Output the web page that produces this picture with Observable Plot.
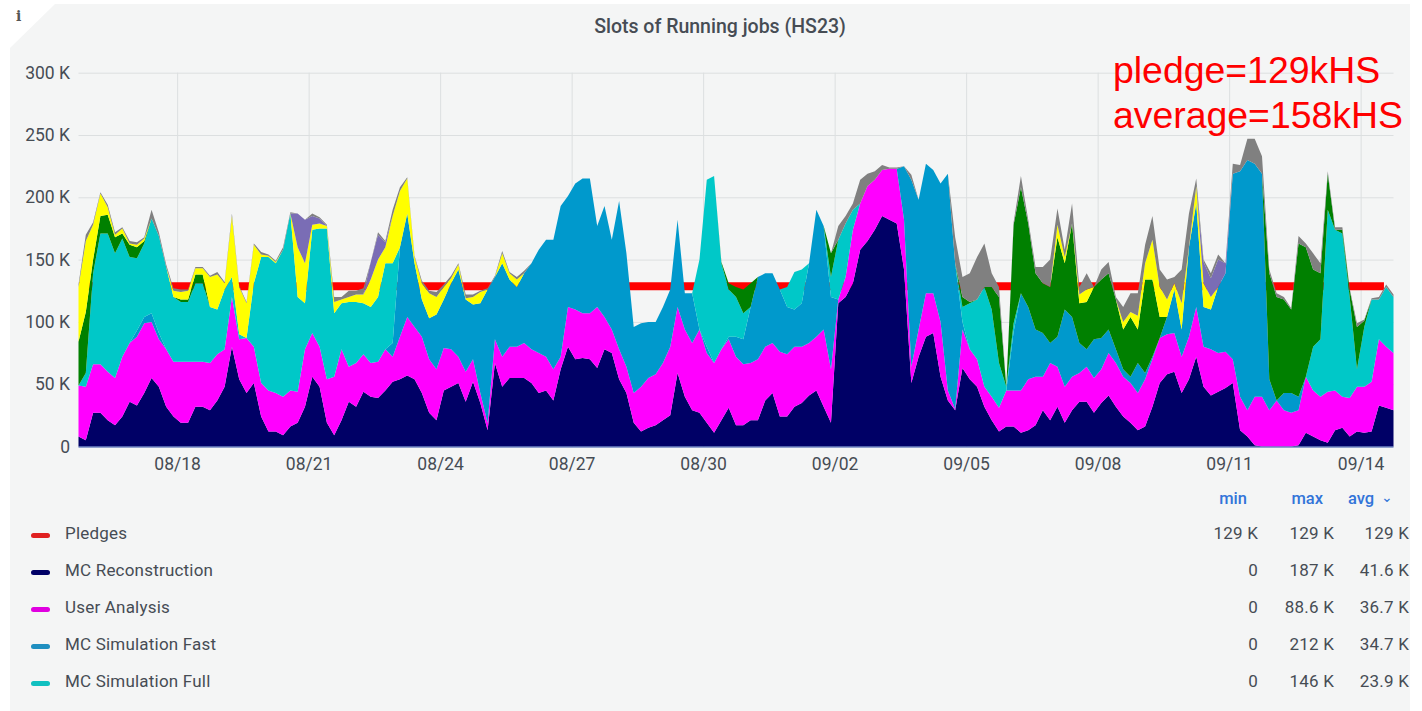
<!DOCTYPE html>
<html><head><meta charset="utf-8">
<script src="https://cdn.jsdelivr.net/npm/d3@7"></script>
<script src="https://cdn.jsdelivr.net/npm/@observablehq/plot@0.6"></script>
<style>
html,body{margin:0;padding:0;background:#fff;width:1422px;height:711px;overflow:hidden;font-family:Roboto,sans-serif;color:#464c54}
#panel{position:absolute;left:10px;top:4px;width:1400px;height:707px;background:#f4f5f5;clip-path:polygon(0 44px,45px 0,100% 0,100% 100%,0 100%)}
#chart{position:absolute;left:0;top:0}
.t{position:absolute;white-space:nowrap;line-height:20px;font-size:17px;letter-spacing:.2px}
.r{text-align:right}
.h{color:#3274d9;font-weight:500;font-size:16.5px;letter-spacing:0}
.sw{position:absolute;left:31px;width:19px;height:5px;border-radius:2.5px}
.note{position:absolute;left:1113px;color:#f00;font:37.4px "Liberation Sans",Arial,sans-serif;line-height:44px;white-space:nowrap}
</style></head><body>
<div id="panel"></div>
<div id="chart"></div>
<div id="overlay"></div>
<script>
// Time grid: 4-hourly samples from 08/15 18:00, 181 steps. All values in thousands of slots (K).
const startDate = "2023-08-15T18:00Z";
const stepHours = 4;
const tickDates = ["2023-08-18","2023-08-21","2023-08-24","2023-08-27","2023-08-30","2023-09-02","2023-09-05","2023-09-08","2023-09-11","2023-09-14"];
const pledgeValue = 129;
const pledgeEnd = "2023-09-14T12:30Z";
// Height of the top of each band; 0 = band absent at that step.
const mcRecoTop = [8,5,27,27,21,17,24,36,33,43,55,48,32,24,19,19,32,32,29,37,48,80,54,43,51,24,12,12,9,16,19,32,56,48,19,9,21,36,32,44,40,39,45,52,54,57,54,43,27,21,45,48,51,36,52,
35,13,67,48,55,55,55,51,43,45,37,62,80,70,71,70,63,78,75,54,43,19,12,15,17,21,25,59,40,29,27,19,11,21,31,17,17,21,21,37,43,24,24,32,35,41,45,32,19,115,120,131,158,165,174,185,182,179,142,51,72,88,91,56,37,
29,63,54,48,32,21,12,16,16,11,13,17,29,21,32,19,29,36,36,27,35,41,32,24,19,13,16,32,51,58,60,43,54,72,48,41,44,47,51,13,8,1,0,0,0,0,0,1,11,8,5,3,13,15,8,12,11,12,33,31,29];
const userTop = [49,48,66,66,60,55,72,83,88,99,100,86,78,68,68,68,68,68,67,74,78,120,86,87,80,51,45,43,40,45,44,78,91,80,54,56,78,64,67,74,67,68,78,72,88,104,96,88,70,62,79,78,72,60,70,
43,19,86,72,80,80,83,78,75,72,62,72,112,110,107,107,112,104,94,78,64,43,48,55,58,67,80,112,94,83,94,75,67,78,86,72,66,67,70,80,83,76,74,80,80,83,88,94,62,118,136,174,195,209,214,222,223,223,182,64,94,123,123,100,45,
30,94,78,70,48,40,31,45,45,45,54,56,56,67,64,48,56,59,64,55,62,75,67,56,51,43,54,70,87,90,91,72,88,112,80,78,75,76,70,40,29,40,40,29,37,29,27,29,56,45,40,44,45,40,39,48,48,52,86,80,75];
const fastTop = [0,0,0,0,0,0,0,0,93,104,107,91,0,0,0,0,0,0,0,0,0,0,0,0,0,0,0,0,0,0,0,0,0,0,0,0,0,0,0,0,0,0,0,83,160,187,147,118,103,106,118,131,142,118,114,
115,126,136,147,134,128,139,147,158,166,166,193,201,211,215,215,177,193,166,197,155,96,99,100,100,112,126,182,123,123,94,80,67,78,88,88,86,112,136,139,139,126,112,110,115,147,190,177,120,118,136,174,195,209,214,222,223,223,225,214,198,227,222,211,219,
147,100,78,70,48,40,31,45,92,123,112,94,91,83,88,110,104,83,78,86,87,94,78,62,56,67,59,72,87,104,126,94,160,195,112,110,128,139,219,221,230,227,219,54,37,43,43,40,56,45,40,44,45,40,39,48,48,52,86,80,75];
const fullTop = [49,59,139,171,171,155,167,152,151,163,183,169,144,120,116,116,131,131,112,110,126,136,90,87,131,152,152,147,158,187,120,115,174,175,175,107,115,116,116,115,112,120,147,147,0,0,0,0,0,0,0,0,0,0,0,
0,0,0,0,0,0,0,0,0,0,0,0,0,0,0,0,0,0,0,0,0,0,0,0,0,0,0,0,0,0,150,214,217,147,126,120,107,112,136,139,139,126,128,140,142,147,190,177,136,166,179,190,195,209,214,0,0,0,0,0,0,0,0,0,0,
0,112,115,118,128,110,67,48,99,0,0,0,0,0,0,0,0,0,0,0,0,0,0,0,0,0,0,0,0,0,0,0,0,0,0,0,0,0,0,0,0,0,0,0,0,0,0,0,0,80,86,190,174,171,120,62,96,118,118,128,120];
const greenTop = [84,108,150,185,186,168,171,162,160,165,0,0,0,0,118,118,138,138,0,0,0,0,0,0,0,0,0,0,0,0,0,0,0,0,0,0,0,0,0,0,0,0,0,0,0,0,0,0,0,0,0,0,0,0,0,
0,0,0,0,0,0,0,0,0,0,0,0,0,0,0,0,0,0,0,0,0,0,0,0,0,0,0,0,0,0,0,0,0,148,131,128,126,131,0,0,0,0,0,0,0,0,0,0,155,0,0,0,0,0,0,0,0,0,0,0,0,0,0,0,0,
0,120,116,118,128,128,120,0,178,208,179,139,131,128,168,147,179,115,116,128,134,139,118,94,104,94,134,134,104,99,126,94,160,0,0,0,0,0,0,0,0,0,0,139,120,118,110,163,160,142,139,219,174,174,126,96,101,0,0,0,0];
const yellowTop = [128,165,178,203,192,170,175,163,162,167,0,0,0,125,124,125,143,143,136,138,131,185,128,115,162,154,153,148,0,0,160,147,178,179,177,116,118,120,122,122,134,150,160,185,205,215,152,131,123,120,128,135,146,119,120,
124,126,0,155,139,134,0,0,0,0,0,0,0,0,0,0,0,0,0,0,0,0,0,0,0,0,0,0,0,0,0,0,0,0,0,0,0,0,0,0,0,0,0,0,0,0,0,0,0,0,0,0,0,0,0,0,0,0,0,0,0,0,0,0,0,
0,0,0,0,0,0,0,0,0,0,0,0,0,0,178,152,176,122,126,0,0,0,0,100,108,105,147,166,128,118,131,115,0,209,131,120,0,0,0,0,0,0,0,0,0,0,0,0,0,0,0,0,0,0,0,0,0,0,0,0,0];
const violetTop = [0,0,0,0,0,0,0,0,0,0,0,0,0,0,0,0,0,0,0,0,0,0,0,0,0,0,0,0,0,0,187,182,185,183,0,0,0,0,0,0,148,170,164,0,0,0,0,0,0,0,0,0,0,0,0,
0,0,0,0,0,0,0,0,0,0,0,0,0,0,0,0,0,0,0,0,0,0,0,0,0,0,0,0,0,0,0,0,0,0,0,0,0,0,0,0,0,0,0,0,0,0,0,0,0,0,0,0,0,0,0,0,0,0,0,0,0,0,0,0,0,
0,0,0,0,0,0,0,0,0,0,0,0,0,0,0,0,0,0,0,0,0,0,0,0,0,0,0,0,0,0,0,0,0,0,148,135,150,147,0,0,0,0,0,0,0,0,0,0,0,0,0,0,0,0,0,0,0,0,0,0,0];
const grayTop = [130,170,180,204,194,172,176,165,164,168,190,172,146,127,126,126,144,144,137,140,132,187,129,116,163,156,154,149,160,188,187,182,187,184,178,120,120,125,125,127,148,172,165,190,208,216,153,133,125,124,130,137,147,122,122,
125,127,137,157,140,136,141,0,0,0,0,0,0,0,0,0,0,0,0,0,0,0,0,0,0,0,0,0,0,0,0,0,0,0,0,0,0,0,0,0,0,0,0,0,0,0,0,0,0,177,185,195,214,219,221,226,224,224,0,218,0,0,0,0,0,
168,136,139,152,163,139,128,0,180,217,182,144,144,150,191,158,195,128,139,128,142,148,120,112,123,123,162,185,142,134,136,142,187,215,150,139,154,147,227,226,247,247,233,142,123,120,111,169,163,155,147,221,176,176,127,99,102,119,120,130,122];

const bandNames = ["MC Reconstruction","User Analysis","MC Simulation Fast","MC Simulation Full","Other green","Other yellow","Other violet","Other gray"];
const bandColors = ["#000066","#ff00ff","#0099cc","#00c8c8","#008000","#ffff00","#7a6db5","#808080"];
const bandTops = [mcRecoTop,userTop,fastTop,fullTop,greenTop,yellowTop,violetTop,grayTop];
const start = new Date(startDate);
const rows = [];
mcRecoTop.forEach((_, i) => {
  const t = new Date(+start + i * stepHours * 3600e3);
  let lower = 0;
  bandTops.forEach((tops, b) => {
    const top = Math.max(tops[i], lower);
    rows.push({t, band: bandNames[b], value: top - lower});
    lower = top;
  });
});
const ticks = tickDates.map(d => new Date(d));
const end = new Date(+start + 180 * stepHours * 3600e3);
const textColor = "#464c54";
const chart = Plot.plot({
  width: 1422, height: 480,
  marginLeft: 78.5, marginRight: 28.5, marginTop: 72.7, marginBottom: 33.5,
  style: {background: "transparent", fontFamily: "Roboto,sans-serif", fontSize: "17.5px", color: textColor},
  x: {type: "utc", domain: [start, end]},
  y: {domain: [0, 300]},
  color: {domain: bandNames, range: bandColors},
  marks: [
    Plot.gridX(ticks, {stroke: "#dcdfe0", strokeOpacity: 1}),
    Plot.gridY(d3.range(50, 301, 50), {stroke: "#dcdfe0", strokeOpacity: 1}),
    Plot.lineY([{t: start, v: pledgeValue}, {t: new Date(pledgeEnd), v: pledgeValue}], {x: "t", y: "v", stroke: "#ff0000", strokeWidth: 8, strokeLinecap: "butt"}),
    Plot.areaY(rows, {x: "t", y: "value", fill: "band", z: "band", order: bandNames, curve: "linear"}),
    Plot.ruleY([0], {stroke: "#2f4fa8", strokeWidth: 1}),
    Plot.axisX({ticks, tickSize: 0, tickPadding: 11, tickFormat: d3.utcFormat("%m/%d"), label: null, fill: textColor}),
    Plot.axisY({ticks: d3.range(0, 301, 50), tickSize: 0, tickPadding: 9, tickFormat: d => d ? d + " K" : "0", label: null, fill: textColor})
  ]
});
document.getElementById("chart").append(chart);

// Overlay text: title, notes, legend table
const legendNames = ["Pledges","MC Reconstruction","User Analysis","MC Simulation Fast","MC Simulation Full"];
const legendColors = ["#e02020","#000066","#e000e0","#1f8fc0","#10c0c0"];
const minLabels = ["129 K","0","0","0","0"];
const maxLabels = ["129 K","187 K","88.6 K","212 K","146 K"];
const avgLabels = ["129 K","41.6 K","36.7 K","34.7 K","23.9 K"];
const noteLines = ["pledge=129kHS","average=158kHS"];
const ov = document.getElementById("overlay");
function add(cls, css, text){const d=document.createElement("div");d.className=cls;d.style.cssText=css;if(text!=null)d.textContent=text;ov.append(d);return d;}
add("t","left:0;width:1440px;text-align:center;top:17px;font-weight:500;font-size:19.5px;letter-spacing:0;color:#464c54","Slots of Running jobs (HS23)");
add("t","left:16px;top:6px;font:bold 14px 'DejaVu Serif',serif;line-height:20px;color:#555","i");
noteLines.forEach((s,i)=>add("note",`top:${48+i*45}px`,s));
add("t h r","left:1190px;width:57px;top:489px","min");
add("t h r","left:1270px;width:53px;top:489px","max");
add("t h","left:1348px;top:489px","avg");
add("t h","left:1381px;top:487px;font-size:14px","\u2304");
legendNames.forEach((n,i)=>{
  const y=534+i*37;
  add("sw",`top:${y-1}px;background:${legendColors[i]}`);
  add("t",`left:65px;top:${y-11}px`,n);
  add("t r",`left:1190px;width:68px;top:${y-11}px`,minLabels[i]);
  add("t r",`left:1270px;width:64px;top:${y-11}px`,maxLabels[i]);
  add("t r",`left:1345px;width:64px;top:${y-11}px`,avgLabels[i]);
});
</script>
</body></html>
